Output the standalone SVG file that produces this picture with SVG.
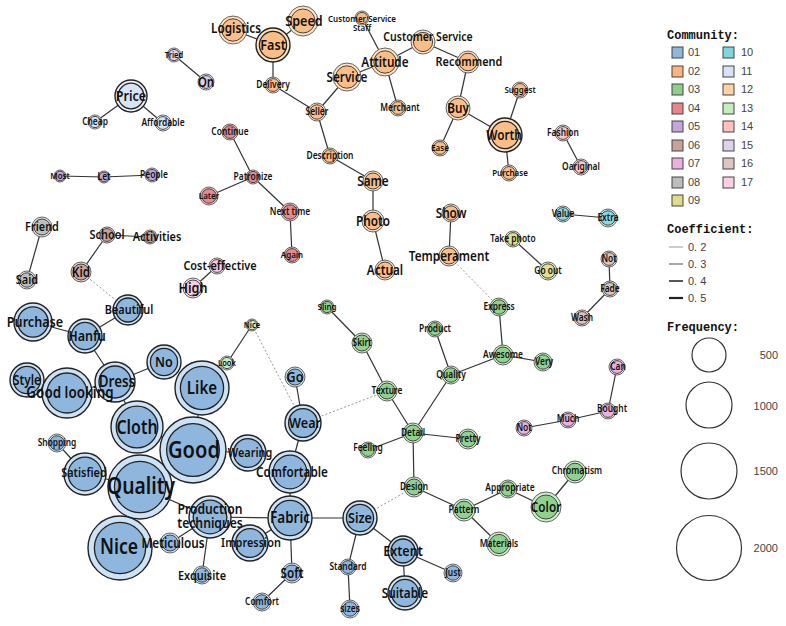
<svg xmlns="http://www.w3.org/2000/svg" width="786" height="626" viewBox="0 0 786 626">
<style>
#nodes text{font-family:"Noto Sans","Open Sans",sans-serif;font-weight:600;fill:#111;text-anchor:middle;transform-box:fill-box;transform-origin:center;transform:scaleX(0.84)}
.n .o{stroke:#555;stroke-width:0.9}
.n .i{stroke:#444;stroke-width:1}
.L .o{stroke:#222;stroke-width:1.4}
.L .i{stroke:#222;stroke-width:1.3}
.c01 .o{fill:#cde2f5}.c01 .i{fill:#8fb7de}
.c02 .o{fill:#fde2c4}.c02 .i{fill:#fbbe86}
.c03 .o{fill:#cdeec9}.c03 .i{fill:#8fd28d}
.c04 .o{fill:#f6c6c6}.c04 .i{fill:#e88a8b}
.c05 .o{fill:#e4d6f0}.c05 .i{fill:#c4a8dd}
.c06 .o{fill:#e6d4cf}.c06 .i{fill:#c9a49b}
.c07 .o{fill:#f6ddf0}.c07 .i{fill:#e9b2de}
.c08 .o{fill:#e6e6e6}.c08 .i{fill:#bebebe}
.c09 .o{fill:#f4f3c9}.c09 .i{fill:#e2e08b}
.c10 .o{fill:#cdf0f4}.c10 .i{fill:#8ad8e1}
.c11 .o{fill:#eef3fb}.c11 .i{fill:#d6e4f5}
.c13 .o{fill:#e6f7e2}.c13 .i{fill:#c9ecc1}
.c14 .o{fill:#fde4e4}.c14 .i{fill:#fcc6c8}
.c15 .o{fill:#efe9f6}.c15 .i{fill:#ddd1ec}
.c16 .o{fill:#efe3df}.c16 .i{fill:#dcc5bd}
.c17 .o{fill:#fde8f1}.c17 .i{fill:#f8cde1}
#edges line{stroke:#333;stroke-width:1.2}
#edges line.d{stroke:#999;stroke-width:1;stroke-dasharray:2 2}
.lg{font-family:"Liberation Sans",Arial,sans-serif;font-size:11px;fill:#444;text-anchor:start}
.lr{font-family:"Liberation Sans",Arial,sans-serif;font-size:11px;fill:#444;text-anchor:end}
.lh{font-family:"Liberation Mono","Courier New",monospace;font-weight:bold;font-size:12px;fill:#111;text-anchor:start}
.sw{stroke:#444;stroke-width:1}
.fq{fill:none;stroke:#333;stroke-width:1.2}
</style>
<rect width="786" height="626" fill="#fff"/>
<g id="edges">
<line x1="174" y1="55" x2="206" y2="82"/>
<line x1="131" y1="96" x2="95" y2="122"/>
<line x1="131" y1="96" x2="163" y2="123"/>
<line x1="60" y1="176" x2="104" y2="177"/>
<line x1="104" y1="177" x2="152" y2="175"/>
<line x1="233" y1="30" x2="273" y2="45"/>
<line x1="303" y1="21" x2="273" y2="45"/>
<line x1="273" y1="45" x2="273" y2="85"/>
<line x1="273" y1="85" x2="317" y2="112"/>
<line x1="317" y1="112" x2="347" y2="77"/>
<line x1="347" y1="77" x2="385" y2="62"/>
<line x1="362" y1="18" x2="385" y2="62"/>
<line x1="385" y1="62" x2="423" y2="42"/>
<line x1="385" y1="62" x2="398" y2="108"/>
<line x1="423" y1="42" x2="468" y2="62"/>
<line x1="468" y1="62" x2="458" y2="108"/>
<line x1="458" y1="108" x2="440" y2="148"/>
<line x1="458" y1="108" x2="505" y2="135"/>
<line x1="505" y1="135" x2="520" y2="90"/>
<line x1="505" y1="135" x2="509" y2="173"/>
<line x1="317" y1="112" x2="330" y2="156"/>
<line x1="330" y1="156" x2="373" y2="181"/>
<line x1="373" y1="181" x2="373" y2="221"/>
<line x1="373" y1="221" x2="385" y2="270"/>
<line x1="451" y1="213" x2="449" y2="256"/>
<line class="d" x1="449" y1="256" x2="499" y2="307"/>
<line x1="563" y1="133" x2="581" y2="167"/>
<line x1="230" y1="132" x2="253" y2="177"/>
<line x1="253" y1="177" x2="209" y2="196"/>
<line x1="253" y1="177" x2="290" y2="212"/>
<line x1="290" y1="212" x2="292" y2="255"/>
<line x1="42" y1="227" x2="27" y2="280"/>
<line x1="107" y1="235" x2="150" y2="237"/>
<line x1="107" y1="235" x2="81" y2="272"/>
<line class="d" x1="81" y1="272" x2="128" y2="310"/>
<line x1="217" y1="266" x2="193" y2="288"/>
<line x1="563" y1="214" x2="608" y2="218"/>
<line x1="513" y1="239" x2="548" y2="271"/>
<line x1="609" y1="259" x2="610" y2="289"/>
<line x1="610" y1="289" x2="582" y2="318"/>
<line x1="617" y1="367" x2="608" y2="411"/>
<line x1="608" y1="411" x2="568" y2="420"/>
<line x1="568" y1="420" x2="524" y2="428"/>
<line x1="128" y1="310" x2="85" y2="336"/>
<line x1="33" y1="322" x2="85" y2="336"/>
<line x1="85" y1="336" x2="115" y2="382"/>
<line x1="115" y1="382" x2="164" y2="362"/>
<line x1="115" y1="382" x2="67" y2="393"/>
<line x1="27" y1="380" x2="67" y2="393"/>
<line x1="115" y1="382" x2="137" y2="427"/>
<line x1="202" y1="388" x2="193" y2="450"/>
<line x1="137" y1="427" x2="193" y2="450"/>
<line x1="193" y1="450" x2="140" y2="487"/>
<line x1="193" y1="450" x2="248" y2="453"/>
<line x1="140" y1="487" x2="85" y2="474"/>
<line x1="85" y1="474" x2="57" y2="443"/>
<line x1="140" y1="487" x2="120" y2="548"/>
<line x1="140" y1="487" x2="210" y2="517"/>
<line x1="210" y1="517" x2="170" y2="543"/>
<line x1="210" y1="517" x2="202" y2="575"/>
<line x1="210" y1="517" x2="290" y2="518"/>
<line x1="290" y1="518" x2="250" y2="543"/>
<line x1="290" y1="518" x2="290" y2="472"/>
<line x1="290" y1="472" x2="303" y2="423"/>
<line x1="303" y1="423" x2="295" y2="377"/>
<line x1="290" y1="518" x2="292" y2="573"/>
<line x1="292" y1="573" x2="262" y2="602"/>
<line x1="290" y1="518" x2="360" y2="518"/>
<line x1="360" y1="518" x2="348" y2="567"/>
<line x1="348" y1="567" x2="350" y2="609"/>
<line x1="360" y1="518" x2="403" y2="551"/>
<line x1="403" y1="551" x2="453" y2="573"/>
<line x1="403" y1="551" x2="405" y2="593"/>
<line x1="252" y1="325" x2="227" y2="363"/>
<line class="d" x1="252" y1="325" x2="303" y2="423"/>
<line class="d" x1="303" y1="423" x2="387" y2="391"/>
<line class="d" x1="360" y1="518" x2="414" y2="487"/>
<line x1="327" y1="307" x2="362" y2="343"/>
<line x1="362" y1="343" x2="387" y2="391"/>
<line x1="387" y1="391" x2="413" y2="433"/>
<line x1="413" y1="433" x2="451" y2="375"/>
<line x1="451" y1="375" x2="435" y2="329"/>
<line x1="451" y1="375" x2="503" y2="355"/>
<line x1="503" y1="355" x2="499" y2="307"/>
<line x1="503" y1="355" x2="543" y2="362"/>
<line x1="413" y1="433" x2="468" y2="439"/>
<line x1="413" y1="433" x2="368" y2="450"/>
<line x1="413" y1="433" x2="414" y2="487"/>
<line x1="414" y1="487" x2="464" y2="510"/>
<line x1="464" y1="510" x2="508" y2="489"/>
<line x1="508" y1="489" x2="546" y2="507"/>
<line x1="546" y1="507" x2="575" y2="472"/>
<line x1="464" y1="510" x2="499" y2="544"/>
</g>
<g id="nodes">
<g id="n-tried" class="n c15"><circle class="o" cx="174" cy="55" r="7"/><circle class="i" cx="174" cy="55" r="5.6"/><text x="174" y="58" font-size="9">Tried</text></g>
<g id="n-on" class="n c15"><circle class="o" cx="206" cy="82" r="8"/><circle class="i" cx="206" cy="82" r="6.4"/><text x="206" y="87" font-size="14">On</text></g>
<g id="n-price" class="n L c11"><circle class="o" cx="131" cy="96" r="16"/><circle class="i" cx="131" cy="96" r="12.8"/><text x="131" y="101" font-size="15">Price</text></g>
<g id="n-cheap" class="n c11"><circle class="o" cx="95" cy="122" r="7"/><circle class="i" cx="95" cy="122" r="5.6"/><text x="95" y="125.5" font-size="10">Cheap</text></g>
<g id="n-affordable" class="n c11"><circle class="o" cx="163" cy="123" r="8"/><circle class="i" cx="163" cy="123" r="6.4"/><text x="163" y="126.5" font-size="10">Affordable</text></g>
<g id="n-most" class="n c05"><circle class="o" cx="60" cy="176" r="6"/><circle class="i" cx="60" cy="176" r="4.8"/><text x="60" y="179.3" font-size="9.5">Most</text></g>
<g id="n-let" class="n c05"><circle class="o" cx="104" cy="177" r="6"/><circle class="i" cx="104" cy="177" r="4.8"/><text x="104" y="180.5" font-size="10">Let</text></g>
<g id="n-people" class="n c05"><circle class="o" cx="152" cy="175" r="7"/><circle class="i" cx="152" cy="175" r="5.6"/><text x="154" y="178.5" font-size="10">People</text></g>

<g id="n-logistics" class="n c02"><circle class="o" cx="233" cy="30" r="14"/><circle class="i" cx="233" cy="30" r="11.2"/><text x="236" y="33" font-size="14">Logistics</text></g>
<g id="n-fast" class="n L c02"><circle class="o" cx="273" cy="45" r="17"/><circle class="i" cx="273" cy="45" r="13.6"/><text x="273" y="50" font-size="15">Fast</text></g>
<g id="n-speed" class="n c02"><circle class="o" cx="303" cy="21" r="15"/><circle class="i" cx="303" cy="21" r="12"/><text x="304" y="26" font-size="15">Speed</text></g>
<g id="n-csstaff" class="n c02"><circle class="o" cx="362" cy="18" r="7"/><circle class="i" cx="362" cy="18" r="5.6"/><text x="362" y="22" font-size="9.5">Customer Service</text><text x="362" y="31" font-size="9.5">Staff</text></g>
<g id="n-custservice" class="n c02"><circle class="o" cx="423" cy="42" r="12"/><circle class="i" cx="423" cy="42" r="9.6"/><text x="428" y="41.5" font-size="12.5">Customer Service</text></g>
<g id="n-attitude" class="n c02"><circle class="o" cx="385" cy="62" r="14"/><circle class="i" cx="385" cy="62" r="11.2"/><text x="385" y="67" font-size="14">Attitude</text></g>
<g id="n-service" class="n c02"><circle class="o" cx="347" cy="77" r="14"/><circle class="i" cx="347" cy="77" r="11.2"/><text x="347" y="82" font-size="14">Service</text></g>
<g id="n-delivery" class="n c02"><circle class="o" cx="273" cy="85" r="8"/><circle class="i" cx="273" cy="85" r="6.4"/><text x="273" y="88.5" font-size="10">Delivery</text></g>
<g id="n-seller" class="n c02"><circle class="o" cx="317" cy="112" r="9"/><circle class="i" cx="317" cy="112" r="7.2"/><text x="317" y="115.5" font-size="10">Seller</text></g>
<g id="n-merchant" class="n c02"><circle class="o" cx="398" cy="108" r="8"/><circle class="i" cx="398" cy="108" r="6.4"/><text x="400" y="111.5" font-size="10">Merchant</text></g>
<g id="n-recommend" class="n c02"><circle class="o" cx="468" cy="62" r="11"/><circle class="i" cx="468" cy="62" r="8.8"/><text x="469" y="66.5" font-size="13">Recommend</text></g>
<g id="n-buy" class="n c02"><circle class="o" cx="458" cy="108" r="12"/><circle class="i" cx="458" cy="108" r="9.6"/><text x="458" y="113" font-size="14">Buy</text></g>
<g id="n-suggest" class="n c02"><circle class="o" cx="520" cy="90" r="8"/><circle class="i" cx="520" cy="90" r="6.4"/><text x="520" y="93.3" font-size="9.5">Suggest</text></g>
<g id="n-worth" class="n L c02"><circle class="o" cx="505" cy="135" r="17"/><circle class="i" cx="505" cy="135" r="13.6"/><text x="504" y="140" font-size="14">Worth</text></g>
<g id="n-ease" class="n c02"><circle class="o" cx="440" cy="148" r="8"/><circle class="i" cx="440" cy="148" r="6.4"/><text x="440" y="151.3" font-size="9.5">Ease</text></g>
<g id="n-purchase2" class="n c02"><circle class="o" cx="509" cy="173" r="8"/><circle class="i" cx="509" cy="173" r="6.4"/><text x="510" y="176.3" font-size="9.5">Purchase</text></g>
<g id="n-fashion" class="n c14"><circle class="o" cx="563" cy="133" r="8"/><circle class="i" cx="563" cy="133" r="6.4"/><text x="563" y="136.5" font-size="10">Fashion</text></g>
<g id="n-oariginal" class="n c14"><circle class="o" cx="581" cy="167" r="8"/><circle class="i" cx="581" cy="167" r="6.4"/><text x="581" y="170.5" font-size="10">Oariginal</text></g>
<g id="n-description" class="n c02"><circle class="o" cx="330" cy="156" r="8"/><circle class="i" cx="330" cy="156" r="6.4"/><text x="330" y="159.5" font-size="10">Description</text></g>
<g id="n-same" class="n c02"><circle class="o" cx="373" cy="181" r="10"/><circle class="i" cx="373" cy="181" r="8"/><text x="373" y="186" font-size="14">Same</text></g>
<g id="n-photo" class="n c02"><circle class="o" cx="373" cy="221" r="11"/><circle class="i" cx="373" cy="221" r="8.8"/><text x="373" y="226" font-size="14">Photo</text></g>
<g id="n-actual" class="n c02"><circle class="o" cx="385" cy="270" r="10"/><circle class="i" cx="385" cy="270" r="8"/><text x="385" y="275" font-size="14">Actual</text></g>
<g id="n-show" class="n c02"><circle class="o" cx="451" cy="213" r="9"/><circle class="i" cx="451" cy="213" r="7.2"/><text x="451" y="218" font-size="14">Show</text></g>
<g id="n-temperament" class="n c02"><circle class="o" cx="449" cy="256" r="10"/><circle class="i" cx="449" cy="256" r="8"/><text x="449" y="261" font-size="14">Temperament</text></g>

<g id="n-continue" class="n c04"><circle class="o" cx="230" cy="132" r="8"/><circle class="i" cx="230" cy="132" r="6.4"/><text x="230" y="135.5" font-size="10">Continue</text></g>
<g id="n-patronize" class="n c04"><circle class="o" cx="253" cy="177" r="7"/><circle class="i" cx="253" cy="177" r="5.6"/><text x="253" y="180.5" font-size="10">Patronize</text></g>
<g id="n-later" class="n c04"><circle class="o" cx="209" cy="196" r="9"/><circle class="i" cx="209" cy="196" r="7.2"/><text x="209" y="199.3" font-size="9.5">Later</text></g>
<g id="n-nexttime" class="n c04"><circle class="o" cx="290" cy="212" r="9"/><circle class="i" cx="290" cy="212" r="7.2"/><text x="290" y="215.5" font-size="10">Next time</text></g>
<g id="n-again" class="n c04"><circle class="o" cx="292" cy="255" r="8"/><circle class="i" cx="292" cy="255" r="6.4"/><text x="292" y="258.3" font-size="9.5">Again</text></g>

<g id="n-friend" class="n c08"><circle class="o" cx="42" cy="227" r="10"/><circle class="i" cx="42" cy="227" r="8"/><text x="42" y="231.5" font-size="13">Friend</text></g>
<g id="n-said" class="n c08"><circle class="o" cx="27" cy="280" r="9"/><circle class="i" cx="27" cy="280" r="7.2"/><text x="27" y="284.5" font-size="13">Said</text></g>
<g id="n-school" class="n c06"><circle class="o" cx="107" cy="235" r="8"/><circle class="i" cx="107" cy="235" r="6.4"/><text x="107" y="239.5" font-size="13">School</text></g>
<g id="n-activities" class="n c06"><circle class="o" cx="150" cy="237" r="7"/><circle class="i" cx="150" cy="237" r="5.6"/><text x="157" y="241.5" font-size="13">Activities</text></g>
<g id="n-kid" class="n c06"><circle class="o" cx="81" cy="272" r="10"/><circle class="i" cx="81" cy="272" r="8"/><text x="81" y="277" font-size="14">Kid</text></g>
<g id="n-costeffective" class="n c17"><circle class="o" cx="217" cy="266" r="8"/><circle class="i" cx="217" cy="266" r="6.4"/><text x="220" y="270.5" font-size="13">Cost-effective</text></g>
<g id="n-high" class="n c17"><circle class="o" cx="193" cy="288" r="10"/><circle class="i" cx="193" cy="288" r="8"/><text x="193" y="293" font-size="15">High</text></g>

<g id="n-beautiful" class="n L c01"><circle class="o" cx="128" cy="310" r="15"/><circle class="i" cx="128" cy="310" r="12"/><text x="129" y="314.5" font-size="13">Beautiful</text></g>
<g id="n-purchase" class="n L c01"><circle class="o" cx="33" cy="322" r="19"/><circle class="i" cx="33" cy="322" r="15.2"/><text x="35" y="327" font-size="15">Purchase</text></g>
<g id="n-hanfu" class="n L c01"><circle class="o" cx="85" cy="336" r="17"/><circle class="i" cx="85" cy="336" r="13.6"/><text x="87" y="341" font-size="15">Hanfu</text></g>
<g id="n-nice-green" class="n c13"><circle class="o" cx="252" cy="325" r="6"/><circle class="i" cx="252" cy="325" r="4.8"/><text x="252" y="328" font-size="9">Nice</text></g>
<g id="n-look" class="n c13"><circle class="o" cx="227" cy="363" r="7"/><circle class="i" cx="227" cy="363" r="5.6"/><text x="227" y="366" font-size="9">Look</text></g>
<g id="n-no" class="n L c01"><circle class="o" cx="164" cy="362" r="17"/><circle class="i" cx="164" cy="362" r="13.6"/><text x="164" y="367" font-size="15">No</text></g>
<g id="n-style" class="n L c01"><circle class="o" cx="27" cy="380" r="17"/><circle class="i" cx="27" cy="380" r="13.6"/><text x="27" y="385" font-size="14">Style</text></g>
<g id="n-dress" class="n L c01"><circle class="o" cx="115" cy="382" r="20"/><circle class="i" cx="115" cy="382" r="16"/><text x="117" y="387.5" font-size="16">Dress</text></g>
<g id="n-goodlooking" class="n L c01"><circle class="o" cx="67" cy="393" r="25"/><circle class="i" cx="67" cy="393" r="20"/><text x="70" y="398.5" font-size="16">Good looking</text></g>
<g id="n-like" class="n L c01"><circle class="o" cx="202" cy="388" r="27"/><circle class="i" cx="202" cy="388" r="21.6"/><text x="202" y="394.3" font-size="18">Like</text></g>
<g id="n-cloth" class="n L c01"><circle class="o" cx="137" cy="427" r="26"/><circle class="i" cx="137" cy="427" r="20.8"/><text x="137" y="433.6" font-size="19">Cloth</text></g>
<g id="n-shopping" class="n c01"><circle class="o" cx="57" cy="443" r="9"/><circle class="i" cx="57" cy="443" r="7.2"/><text x="57" y="446.5" font-size="10">Shopping</text></g>
<g id="n-quality" class="n L c01"><circle class="o" cx="140" cy="487" r="32"/><circle class="i" cx="140" cy="487" r="25.6"/><text x="141" y="494" font-size="23">Quality</text></g>
<g id="n-good" class="n L c01"><circle class="o" cx="193" cy="450" r="33"/><circle class="i" cx="193" cy="450" r="26.4"/><text x="194" y="458.5" font-size="24">Good</text></g>
<g id="n-satisfied" class="n L c01"><circle class="o" cx="85" cy="474" r="21"/><circle class="i" cx="85" cy="474" r="16.8"/><text x="84" y="477.5" font-size="13">Satisfied</text></g>
<g id="n-nice" class="n L c01"><circle class="o" cx="120" cy="548" r="32"/><circle class="i" cx="120" cy="548" r="25.6"/><text x="119" y="554.3" font-size="21">Nice</text></g>
<g id="n-go" class="n c01"><circle class="o" cx="295" cy="377" r="10"/><circle class="i" cx="295" cy="377" r="8"/><text x="295" y="382" font-size="15">Go</text></g>
<g id="n-wear" class="n L c01"><circle class="o" cx="303" cy="423" r="18"/><circle class="i" cx="303" cy="423" r="14.4"/><text x="305" y="428" font-size="15">Wear</text></g>
<g id="n-comfortable" class="n L c01"><circle class="o" cx="290" cy="472" r="21"/><circle class="i" cx="290" cy="472" r="16.8"/><text x="292" y="477" font-size="14">Comfortable</text></g>
<g id="n-wearing" class="n L c01"><circle class="o" cx="248" cy="453" r="18"/><circle class="i" cx="248" cy="453" r="14.4"/><text x="250" y="457.5" font-size="13">Wearing</text></g>
<g id="n-fabric" class="n L c01"><circle class="o" cx="290" cy="518" r="22"/><circle class="i" cx="290" cy="518" r="17.6"/><text x="290" y="523.5" font-size="16">Fabric</text></g>
<g id="n-production" class="n L c01"><circle class="o" cx="210" cy="517" r="21"/><circle class="i" cx="210" cy="517" r="16.8"/><text x="210" y="514" font-size="14.5">Production</text><text x="210" y="528" font-size="14.5">techniques</text></g>
<g id="n-meticulous" class="n c01"><circle class="o" cx="170" cy="543" r="10"/><circle class="i" cx="170" cy="543" r="8"/><text x="173" y="548" font-size="14">Meticulous</text></g>
<g id="n-impression" class="n L c01"><circle class="o" cx="250" cy="543" r="18"/><circle class="i" cx="250" cy="543" r="14.4"/><text x="251" y="547.5" font-size="13">Impression</text></g>
<g id="n-exquisite" class="n c01"><circle class="o" cx="202" cy="575" r="9"/><circle class="i" cx="202" cy="575" r="7.2"/><text x="202" y="580.5" font-size="13">Exquisite</text></g>
<g id="n-comfort" class="n c01"><circle class="o" cx="262" cy="602" r="9"/><circle class="i" cx="262" cy="602" r="7.2"/><text x="262" y="605.5" font-size="10">Comfort</text></g>
<g id="n-size" class="n L c01"><circle class="o" cx="360" cy="518" r="17"/><circle class="i" cx="360" cy="518" r="13.6"/><text x="360" y="523" font-size="15">Size</text></g>
<g id="n-soft" class="n c01"><circle class="o" cx="292" cy="573" r="10"/><circle class="i" cx="292" cy="573" r="8"/><text x="292" y="578" font-size="14">Soft</text></g>
<g id="n-standard" class="n c01"><circle class="o" cx="348" cy="567" r="8"/><circle class="i" cx="348" cy="567" r="6.4"/><text x="348" y="570.5" font-size="10">Standard</text></g>
<g id="n-sizes" class="n c01"><circle class="o" cx="350" cy="609" r="9"/><circle class="i" cx="350" cy="609" r="7.2"/><text x="350" y="612.5" font-size="10">sizes</text></g>
<g id="n-extent" class="n L c01"><circle class="o" cx="403" cy="551" r="15"/><circle class="i" cx="403" cy="551" r="12"/><text x="403" y="556" font-size="15">Extent</text></g>
<g id="n-just" class="n c01"><circle class="o" cx="453" cy="573" r="9"/><circle class="i" cx="453" cy="573" r="7.2"/><text x="453" y="576.5" font-size="10">Just</text></g>
<g id="n-suitable" class="n L c01"><circle class="o" cx="405" cy="593" r="17"/><circle class="i" cx="405" cy="593" r="13.6"/><text x="405" y="598" font-size="14">Suitable</text></g>

<g id="n-sling" class="n c03"><circle class="o" cx="327" cy="307" r="7"/><circle class="i" cx="327" cy="307" r="5.6"/><text x="327" y="310.3" font-size="9.5">Sling</text></g>
<g id="n-skirt" class="n c03"><circle class="o" cx="362" cy="343" r="10"/><circle class="i" cx="362" cy="343" r="8"/><text x="362" y="346.5" font-size="10">Skirt</text></g>
<g id="n-texture" class="n c03"><circle class="o" cx="387" cy="391" r="10"/><circle class="i" cx="387" cy="391" r="8"/><text x="387" y="394.5" font-size="10">Texture</text></g>
<g id="n-product" class="n c03"><circle class="o" cx="435" cy="329" r="8"/><circle class="i" cx="435" cy="329" r="6.4"/><text x="435" y="332.5" font-size="10">Product</text></g>
<g id="n-quality-green" class="n c03"><circle class="o" cx="451" cy="375" r="9"/><circle class="i" cx="451" cy="375" r="7.2"/><text x="451" y="378.5" font-size="10">Quality</text></g>
<g id="n-express" class="n c03"><circle class="o" cx="499" cy="307" r="9"/><circle class="i" cx="499" cy="307" r="7.2"/><text x="499" y="310.5" font-size="10">Express</text></g>
<g id="n-awesome" class="n c03"><circle class="o" cx="503" cy="355" r="10"/><circle class="i" cx="503" cy="355" r="8"/><text x="503" y="358.5" font-size="10">Awesome</text></g>
<g id="n-very" class="n c03"><circle class="o" cx="543" cy="362" r="9"/><circle class="i" cx="543" cy="362" r="7.2"/><text x="544" y="365.5" font-size="10">Very</text></g>
<g id="n-detail" class="n c03"><circle class="o" cx="413" cy="433" r="10"/><circle class="i" cx="413" cy="433" r="8"/><text x="413" y="436.5" font-size="10">Detail</text></g>
<g id="n-pretty" class="n c03"><circle class="o" cx="468" cy="439" r="10"/><circle class="i" cx="468" cy="439" r="8"/><text x="468" y="442.5" font-size="10">Pretty</text></g>
<g id="n-feeling" class="n c03"><circle class="o" cx="368" cy="450" r="8"/><circle class="i" cx="368" cy="450" r="6.4"/><text x="368" y="451.5" font-size="10">Feeling</text></g>
<g id="n-design" class="n c03"><circle class="o" cx="414" cy="487" r="10"/><circle class="i" cx="414" cy="487" r="8"/><text x="414" y="490.5" font-size="10">Design</text></g>
<g id="n-pattern" class="n c03"><circle class="o" cx="464" cy="510" r="11"/><circle class="i" cx="464" cy="510" r="8.8"/><text x="464" y="513.5" font-size="10">Pattern</text></g>
<g id="n-appropriate" class="n c03"><circle class="o" cx="508" cy="489" r="9"/><circle class="i" cx="508" cy="489" r="7.2"/><text x="510" y="491.5" font-size="10">Appropriate</text></g>
<g id="n-color" class="n c03"><circle class="o" cx="546" cy="507" r="15"/><circle class="i" cx="546" cy="507" r="12"/><text x="546" y="512" font-size="14">Color</text></g>
<g id="n-chromatism" class="n c03"><circle class="o" cx="575" cy="472" r="11"/><circle class="i" cx="575" cy="472" r="8.8"/><text x="577" y="474.5" font-size="10">Chromatism</text></g>
<g id="n-materials" class="n c03"><circle class="o" cx="499" cy="544" r="12"/><circle class="i" cx="499" cy="544" r="9.6"/><text x="499" y="547.5" font-size="10">Materials</text></g>

<g id="n-takephoto" class="n c09"><circle class="o" cx="513" cy="239" r="8"/><circle class="i" cx="513" cy="239" r="6.4"/><text x="513" y="242.5" font-size="10">Take photo</text></g>
<g id="n-goout" class="n c09"><circle class="o" cx="548" cy="271" r="9"/><circle class="i" cx="548" cy="271" r="7.2"/><text x="548" y="274.5" font-size="10">Go out</text></g>
<g id="n-value" class="n c10"><circle class="o" cx="563" cy="214" r="8"/><circle class="i" cx="563" cy="214" r="6.4"/><text x="563" y="217.5" font-size="10">Value</text></g>
<g id="n-extra" class="n c10"><circle class="o" cx="608" cy="218" r="9"/><circle class="i" cx="608" cy="218" r="7.2"/><text x="608" y="221.5" font-size="10">Extra</text></g>
<g id="n-not" class="n c16"><circle class="o" cx="609" cy="259" r="8"/><circle class="i" cx="609" cy="259" r="6.4"/><text x="609" y="262.5" font-size="10">Not</text></g>
<g id="n-fade" class="n c16"><circle class="o" cx="610" cy="289" r="8"/><circle class="i" cx="610" cy="289" r="6.4"/><text x="610" y="292.5" font-size="10">Fade</text></g>
<g id="n-wash" class="n c16"><circle class="o" cx="582" cy="318" r="8"/><circle class="i" cx="582" cy="318" r="6.4"/><text x="582" y="321.5" font-size="10">Wash</text></g>
<g id="n-can" class="n c07"><circle class="o" cx="617" cy="367" r="8"/><circle class="i" cx="617" cy="367" r="6.4"/><text x="618" y="370.5" font-size="10">Can</text></g>
<g id="n-bought" class="n c07"><circle class="o" cx="608" cy="411" r="8"/><circle class="i" cx="608" cy="411" r="6.4"/><text x="612" y="412.5" font-size="10">Bought</text></g>
<g id="n-much" class="n c07"><circle class="o" cx="568" cy="420" r="8"/><circle class="i" cx="568" cy="420" r="6.4"/><text x="568" y="422" font-size="10">Much</text></g>
<g id="n-not-pink" class="n c07"><circle class="o" cx="524" cy="428" r="8"/><circle class="i" cx="524" cy="428" r="6.4"/><text x="524" y="431.5" font-size="10">Not</text></g>
</g>

<g id="legend">
<text class="lh" x="667" y="39">Community:</text>
<rect class="sw" x="672" y="47" width="11" height="11" fill="#8fb7de"/><text class="lg" x="688" y="56">01</text>
<rect class="sw" x="672" y="66" width="11" height="11" fill="#fbb47a"/><text class="lg" x="688" y="75">02</text>
<rect class="sw" x="672" y="84" width="11" height="11" fill="#8fcf8d"/><text class="lg" x="688" y="93">03</text>
<rect class="sw" x="672" y="103" width="11" height="11" fill="#e8878a"/><text class="lg" x="688" y="112">04</text>
<rect class="sw" x="672" y="121" width="11" height="11" fill="#c3a6dc"/><text class="lg" x="688" y="130">05</text>
<rect class="sw" x="672" y="140" width="11" height="11" fill="#c9a39a"/><text class="lg" x="688" y="149">06</text>
<rect class="sw" x="672" y="158" width="11" height="11" fill="#eab0e0"/><text class="lg" x="688" y="167">07</text>
<rect class="sw" x="672" y="177" width="11" height="11" fill="#bdbdbd"/><text class="lg" x="688" y="186">08</text>
<rect class="sw" x="672" y="195" width="11" height="11" fill="#dedc88"/><text class="lg" x="688" y="204">09</text>
<rect class="sw" x="723" y="47" width="11" height="11" fill="#7fd6df"/><text class="lg" x="741" y="56">10</text>
<rect class="sw" x="723" y="66" width="11" height="11" fill="#d6e4f5"/><text class="lg" x="741" y="75">11</text>
<rect class="sw" x="723" y="84" width="11" height="11" fill="#ffd2a6"/><text class="lg" x="741" y="93">12</text>
<rect class="sw" x="723" y="103" width="11" height="11" fill="#c5ecbc"/><text class="lg" x="741" y="112">13</text>
<rect class="sw" x="723" y="121" width="11" height="11" fill="#ffc0c0"/><text class="lg" x="741" y="130">14</text>
<rect class="sw" x="723" y="140" width="11" height="11" fill="#ddd1ec"/><text class="lg" x="741" y="149">15</text>
<rect class="sw" x="723" y="158" width="11" height="11" fill="#dcc6bf"/><text class="lg" x="741" y="167">16</text>
<rect class="sw" x="723" y="177" width="11" height="11" fill="#fcd0e4"/><text class="lg" x="741" y="186">17</text>
<text class="lh" x="667" y="233">Coefficient:</text>
<line x1="669" y1="247" x2="683" y2="247" stroke="#aaa" stroke-width="1.2"/><text class="lg" x="688" y="251">0. 2</text>
<line x1="669" y1="264" x2="683" y2="264" stroke="#888" stroke-width="1.5"/><text class="lg" x="688" y="268">0. 3</text>
<line x1="669" y1="281" x2="683" y2="281" stroke="#444" stroke-width="1.8"/><text class="lg" x="688" y="285">0. 4</text>
<line x1="669" y1="298" x2="683" y2="298" stroke="#222" stroke-width="2.2"/><text class="lg" x="688" y="302">0. 5</text>
<text class="lh" x="667" y="331">Frequency:</text>
<circle class="fq" cx="709" cy="355" r="17"/>
<circle class="fq" cx="709" cy="405" r="23"/>
<circle class="fq" cx="709" cy="471" r="28"/>
<circle class="fq" cx="709" cy="548" r="32.5"/>
<text class="lr" x="778" y="359">500</text>
<text class="lr" x="778" y="410">1000</text>
<text class="lr" x="778" y="475">1500</text>
<text class="lr" x="778" y="552">2000</text>
</g>
</svg>
